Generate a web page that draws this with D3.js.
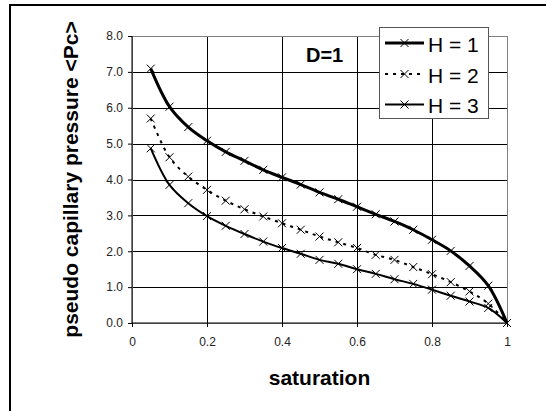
<!DOCTYPE html>
<html>
<head>
<meta charset="utf-8">
<script src="https://cdn.jsdelivr.net/npm/d3@7"></script>
<style>
  body { margin: 0; background: #fff; }
  svg { display: block; font-family: "Liberation Sans", Arial, sans-serif; }
</style>
</head>
<body>
<script>
const w = 546;
const h = 411;

const m = { top: 36, right: 39, bottom: 88, left: 132 };

// saturation values (markers every 0.05)
const saturation = [0.05, 0.1, 0.15, 0.2, 0.25, 0.3, 0.35, 0.4, 0.45, 0.5,
  0.55, 0.6, 0.65, 0.7, 0.75, 0.8, 0.85, 0.9, 0.95, 1.0];

const pcH1 = [7.09, 6.03, 5.46, 5.08, 4.77, 4.52, 4.27, 4.06, 3.86, 3.64,
  3.45, 3.24, 3.03, 2.83, 2.60, 2.32, 2.01, 1.59, 1.04, 0];
const pcH2 = [5.70, 4.62, 4.08, 3.71, 3.41, 3.17, 2.97, 2.78, 2.60, 2.41,
  2.25, 2.09, 1.90, 1.76, 1.56, 1.36, 1.14, 0.88, 0.54, 0];
const pcH3 = [4.87, 3.85, 3.34, 2.98, 2.71, 2.48, 2.27, 2.09, 1.93, 1.76,
  1.65, 1.50, 1.37, 1.22, 1.09, 0.93, 0.76, 0.60, 0.42, 0];

const seriesNames = ["H = 1", "H = 2", "H = 3"];
const xTicks = [0, 0.2, 0.4, 0.6, 0.8, 1];
const yTicks = [0, 1, 2, 3, 4, 5, 6, 7, 8];

const series = [
  { name: seriesNames[0], values: pcH1, width: 3, dash: null },
  { name: seriesNames[1], values: pcH2, width: 2, dash: "3,5" },
  { name: seriesNames[2], values: pcH3, width: 2, dash: null }
];

const svg = d3.select("body").append("svg")
  .attr("width", w)
  .attr("height", h);

// chart area frame (only left + top fall inside the picture)
svg.append("rect")
  .attr("x", 10).attr("y", 5)
  .attr("width", 600).attr("height", 500)
  .attr("fill", "none")
  .attr("stroke", "#000")
  .attr("stroke-width", 2);

const x = d3.scaleLinear().domain([0, 1]).range([m.left, w - m.right]);
const y = d3.scaleLinear().domain([0, 8]).range([h - m.bottom, m.top]);

// gridlines
svg.append("g")
  .selectAll("line")
  .data(yTicks.slice(1, -1))
  .enter().append("line")
  .attr("x1", x(0)).attr("x2", x(1))
  .attr("y1", d => Math.round(y(d)) + 0.5).attr("y2", d => Math.round(y(d)) + 0.5)
  .attr("stroke", "#000");

svg.append("g")
  .selectAll("line")
  .data(xTicks.slice(1, -1))
  .enter().append("line")
  .attr("y1", y(0)).attr("y2", y(8))
  .attr("x1", d => Math.round(x(d)) + 0.5).attr("x2", d => Math.round(x(d)) + 0.5)
  .attr("stroke", "#000");

// plot area border
svg.append("rect")
  .attr("x", x(0) + 0.5).attr("y", Math.round(y(8)) + 0.5)
  .attr("width", x(1) - x(0)).attr("height", y(0) - y(8))
  .attr("fill", "none")
  .attr("stroke", "#808080");

// axes
const yAxis = d3.axisLeft(y)
  .tickValues(yTicks)
  .tickSize(4)
  .tickPadding(5)
  .tickFormat(d3.format(".1f"));

const xAxis = d3.axisBottom(x)
  .tickValues(xTicks)
  .tickSize(4)
  .tickPadding(10)
  .tickFormat(d => d3.format("")(d));

svg.append("g")
  .attr("transform", "translate(" + x(0) + ",0)")
  .call(yAxis)
  .call(g => g.select(".domain").attr("d", "M0," + y(8) + "V" + y(0)))
  .selectAll("text")
  .attr("font-size", 12)
  .attr("font-family", "Liberation Sans, Arial, sans-serif")
  .attr("fill", "#222");

svg.append("g")
  .attr("transform", "translate(0," + y(0) + ")")
  .call(xAxis)
  .call(g => g.select(".domain").attr("d", "M" + x(0) + ",0H" + x(1)))
  .selectAll("text")
  .attr("font-size", 12)
  .attr("font-family", "Liberation Sans, Arial, sans-serif")
  .attr("fill", "#222");

// lines
const line = d3.line()
  .x((d, i) => x(saturation[i]))
  .y(d => y(d))
  .curve(d3.curveCatmullRom.alpha(0.5));

const marker = "M-4,-4L4,4M-4,4L4,-4";

series.forEach(s => {
  svg.append("path")
    .datum(s.values)
    .attr("d", line)
    .attr("fill", "none")
    .attr("stroke", "#000")
    .attr("stroke-width", s.width)
    .attr("stroke-dasharray", s.dash);

  svg.append("g")
    .selectAll("path")
    .data(s.values)
    .enter().append("path")
    .attr("transform", (d, i) => "translate(" + x(saturation[i]) + "," + y(d) + ")")
    .attr("d", marker)
    .attr("stroke", "#000")
    .attr("stroke-width", 1)
    .attr("fill", "none");
});

// annotation
svg.append("text")
  .attr("x", 306).attr("y", 62)
  .attr("font-size", 20)
  .attr("font-weight", "bold")
  .text("D=1");

// legend
const legend = svg.append("g");
legend.append("rect")
  .attr("x", 379.5).attr("y", 27.5)
  .attr("width", 109).attr("height", 91)
  .attr("fill", "#fff")
  .attr("stroke", "#555");

const rowY = [43, 74, 104.5];
series.forEach((s, i) => {
  legend.append("line")
    .attr("x1", 385).attr("x2", 424)
    .attr("y1", rowY[i]).attr("y2", rowY[i])
    .attr("stroke", "#000")
    .attr("stroke-width", s.width)
    .attr("stroke-dasharray", s.dash);
  legend.append("path")
    .attr("transform", "translate(404.5," + rowY[i] + ")")
    .attr("d", marker)
    .attr("stroke", "#000")
    .attr("fill", "none");
  legend.append("text")
    .attr("x", 428).attr("y", rowY[i] + 8.5)
    .attr("font-size", 21)
    .text(s.name);
});

// axis titles
svg.append("text")
  .attr("x", (x(0) + x(1)) / 2).attr("y", 385)
  .attr("text-anchor", "middle")
  .attr("font-size", 21)
  .attr("font-weight", "bold")
  .text("saturation");

svg.append("text")
  .attr("transform", "translate(78," + (y(0) + y(8)) / 2 + ") rotate(-90)")
  .attr("text-anchor", "middle")
  .attr("font-size", 21)
  .attr("font-weight", "bold")
  .text("pseudo capillary pressure <Pc>");
</script>
</body>
</html>
